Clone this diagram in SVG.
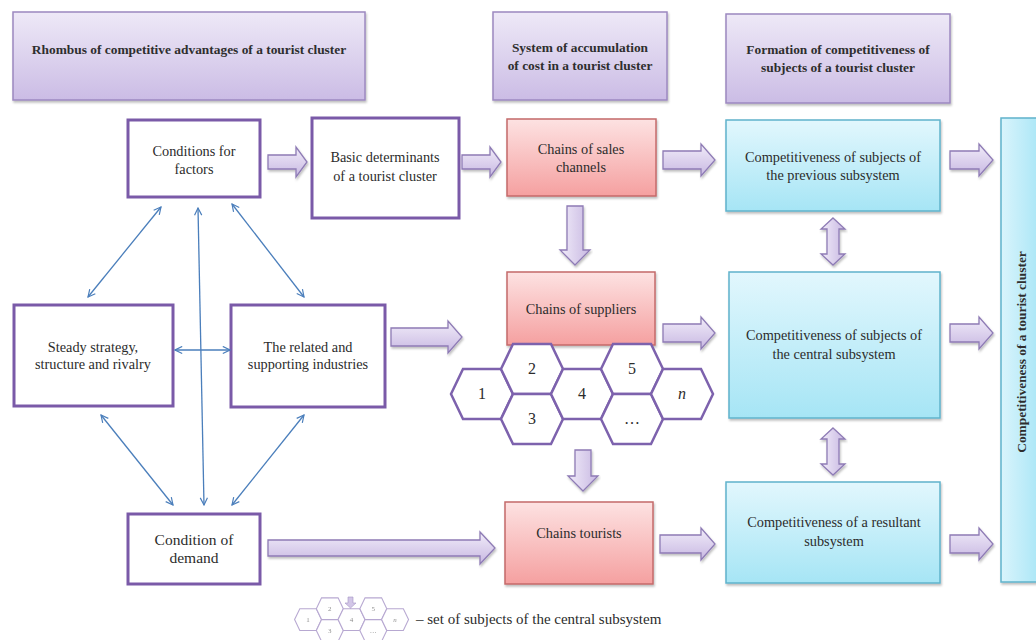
<svg xmlns="http://www.w3.org/2000/svg" xmlns:xlink="http://www.w3.org/1999/xlink" width="1036" height="640" viewBox="0 0 1036 640" font-family="'Liberation Serif', 'Times New Roman', serif">
<defs>
<linearGradient id="gPurple" x1="0" y1="0" x2="0" y2="1"><stop offset="0" stop-color="#eee9f7"/><stop offset="1" stop-color="#cbbce5"/></linearGradient>
<linearGradient id="gRed" x1="0" y1="0" x2="0" y2="1"><stop offset="0" stop-color="#fde2e2"/><stop offset="1" stop-color="#f5a0a0"/></linearGradient>
<linearGradient id="gCyan" x1="0" y1="0" x2="0" y2="1"><stop offset="0" stop-color="#e2f7fd"/><stop offset="1" stop-color="#a6e5f5"/></linearGradient>
<linearGradient id="gBar" x1="0" y1="0" x2="1" y2="0"><stop offset="0" stop-color="#d9f4fc"/><stop offset="1" stop-color="#a9e6f6"/></linearGradient>
<linearGradient id="gArrow" x1="0" y1="0" x2="0" y2="1"><stop offset="0" stop-color="#f1ecf9"/><stop offset="1" stop-color="#c8b8e2"/></linearGradient>
<linearGradient id="gArrowV" x1="0" y1="0" x2="1" y2="0"><stop offset="0" stop-color="#f1ecf9"/><stop offset="1" stop-color="#c8b8e2"/></linearGradient>
<filter id="sh" x="-10%" y="-10%" width="120%" height="130%"><feDropShadow dx="1" dy="2" stdDeviation="1.2" flood-color="#000" flood-opacity="0.25"/></filter>
<marker id="vh" viewBox="0 0 10 10" refX="9" refY="5" markerWidth="9" markerHeight="9" markerUnits="userSpaceOnUse" orient="auto-start-reverse"><path d="M1,1 L9,5 L1,9" fill="none" stroke="#4a7ebb" stroke-width="1.3"/></marker>
<style>
.hdr{fill:url(#gPurple);stroke:#9c88c0;stroke-width:1.5;filter:url(#sh)}
.wb{fill:#fff;stroke:#7a5aa8;stroke-width:3}
.rb{fill:url(#gRed);stroke:#c46a6a;stroke-width:1.5;filter:url(#sh)}
.cb{fill:url(#gCyan);stroke:#5fb3cb;stroke-width:1.5;filter:url(#sh)}
.ar{fill:url(#gArrow);stroke:#8e7bb5;stroke-width:1.3;filter:url(#sh)}
.arv{fill:url(#gArrowV);stroke:#8e7bb5;stroke-width:1.3;filter:url(#sh)}
.hx{fill:#fff;stroke:#7d62ad;stroke-width:2.5}
.bl{stroke:#4a7ebb;stroke-width:1.3;fill:none;marker-start:url(#vh);marker-end:url(#vh)}
text{font-family:'Liberation Serif','Times New Roman',serif;fill:#2c2c2c;text-anchor:middle}
.th{font-size:13.4px;font-weight:bold;fill:#2e2e2e}
.tb{font-size:14.3px}
.tn{font-size:15.5px}
.hn{font-size:16px}
</style>
</defs>

<g id="header-rhombus"><rect class="hdr" x="13" y="12" width="352" height="88"/><text class="th" x="189" y="54">Rhombus of competitive advantages of a tourist cluster</text></g>
<g id="header-system"><rect class="hdr" x="493" y="12" width="174" height="88"/><text class="th" x="580" y="52">System of accumulation</text><text class="th" x="580" y="70">of cost in a tourist cluster</text></g>
<g id="header-formation"><rect class="hdr" x="726" y="14" width="224" height="89"/><text class="th" x="838" y="54">Formation of competitiveness of</text><text class="th" x="838" y="72">subjects of a tourist cluster</text></g>

<g id="conditions-factors"><rect class="wb" x="128" y="120" width="132" height="77"/><text class="tb" x="194" y="156">Conditions for</text><text class="tb" x="194" y="174">factors</text></g>
<g id="basic-determinants"><rect class="wb" x="312" y="118" width="147" height="100"/><text class="tb" x="385" y="162">Basic determinants</text><text class="tb" x="385" y="181">of a tourist cluster</text></g>
<g id="chains-sales"><rect class="rb" x="507" y="119" width="149" height="77"/><text class="tb" x="581" y="154">Chains of sales</text><text class="tb" x="581" y="172">channels</text></g>
<g id="comp-previous"><rect class="cb" x="726" y="120" width="214" height="91"/><text class="tb" x="833" y="162">Competitiveness of subjects of</text><text class="tb" x="833" y="180">the previous subsystem</text></g>
<g id="comp-cluster"><rect x="1001" y="118" width="40" height="464" fill="url(#gBar)" stroke="#5fb3cb" stroke-width="1.5" filter="url(#sh)"/><text class="th" transform="translate(1026,352) rotate(-90)" x="0" y="0">Competitiveness of a tourist cluster</text></g>

<g id="steady-strategy"><rect class="wb" x="14" y="305" width="159" height="101"/><text class="tb" x="93" y="352">Steady strategy,</text><text class="tb" x="93" y="369">structure and rivalry</text></g>
<g id="related-industries"><rect class="wb" x="231" y="305" width="154" height="102"/><text class="tb" x="308" y="352">The related and</text><text class="tb" x="308" y="369">supporting industries</text></g>
<g id="chains-suppliers"><rect class="rb" x="507" y="272" width="148" height="73"/><text class="tb" x="581" y="314">Chains of suppliers</text></g>
<g id="comp-central"><rect class="cb" x="729" y="272" width="211" height="146"/><text class="tb" x="834" y="340">Competitiveness of subjects of</text><text class="tb" x="834" y="359">the central subsystem</text></g>

<g id="hexes">
<polygon class="hx" points="451,394 463,369 501,369 513,394 501,419 463,419"/><text class="hn" x="482" y="399">1</text>
<polygon class="hx" points="501,369 513,344 551,344 563,369 551,394 513,394"/><text class="hn" x="532" y="374">2</text>
<polygon class="hx" points="501,419 513,394 551,394 563,419 551,444 513,444"/><text class="hn" x="532" y="424">3</text>
<polygon class="hx" points="551,394 563,369 601,369 613,394 601,419 563,419"/><text class="hn" x="582" y="399">4</text>
<polygon class="hx" points="601,369 613,344 651,344 663,369 651,394 613,394"/><text class="hn" x="632" y="374">5</text>
<polygon class="hx" points="601,419 613,394 651,394 663,419 651,444 613,444"/><text class="hn" x="632" y="424">…</text>
<polygon class="hx" points="651,394 663,369 701,369 713,394 701,419 663,419"/><text class="hn" x="682" y="399" font-style="italic">n</text>
</g>

<g id="condition-demand"><rect class="wb" x="128" y="514" width="132" height="70"/><text class="tn" x="194" y="545">Condition of</text><text class="tn" x="194" y="563">demand</text></g>
<g id="chains-tourists"><rect class="rb" x="505" y="502" width="148" height="82"/><text class="tb" x="579" y="538">Chains tourists</text></g>
<g id="comp-resultant"><rect class="cb" x="726" y="482" width="214" height="101"/><text class="tb" x="834" y="527">Competitiveness of a resultant</text><text class="tb" x="834" y="546">subsystem</text></g>

<g id="connectors">
<line class="bl" x1="161" y1="207" x2="88" y2="297"/>
<line class="bl" x1="232" y1="204" x2="304" y2="297"/>
<line class="bl" x1="198" y1="208" x2="204" y2="505"/>
<line class="bl" x1="175" y1="350" x2="230" y2="350"/>
<line class="bl" x1="101" y1="415" x2="173" y2="505"/>
<line class="bl" x1="304" y1="415" x2="232" y2="505"/>
<path class="ar" d="M268,155 L296,155 L296,147 L307,162 L296,177 L296,169 L268,169 Z"/>
<path class="ar" d="M462,155 L490,155 L490,147 L501,162 L490,177 L490,169 L462,169 Z"/>
<path class="ar" d="M663,151 L701,151 L701,144 L715,160 L701,176 L701,169 L663,169 Z"/>
<path class="ar" d="M950,151 L979,151 L979,144 L993,160 L979,176 L979,169 L950,169 Z"/>
<path class="ar" d="M391,328 L448,328 L448,321 L462,337 L448,353 L448,346 L391,346 Z"/>
<path class="ar" d="M663,324 L701,324 L701,317 L715,333 L701,349 L701,342 L663,342 Z"/>
<path class="ar" d="M950,324 L979,324 L979,317 L993,333 L979,349 L979,342 L950,342 Z"/>
<path class="ar" d="M268,540 L480,540 L480,532 L495,548 L480,564 L480,556 L268,556 Z"/>
<path class="ar" d="M660,535 L701,535 L701,528 L715,544 L701,560 L701,553 L660,553 Z"/>
<path class="ar" d="M950,535 L979,535 L979,528 L993,544 L979,560 L979,553 L950,553 Z"/>
<path class="arv" d="M567,206 L583,206 L583,250 L590,250 L575,265 L560,250 L567,250 Z"/>
<path class="arv" d="M575,450 L591,450 L591,476 L598,476 L583,491 L568,476 L575,476 Z"/>
<path class="arv" d="M833,218 L845,229 L839,229 L839,254 L845,254 L833,265 L821,254 L827,254 L827,229 L821,229 Z"/>
<path class="arv" d="M833,428 L845,439 L839,439 L839,464 L845,464 L833,475 L821,464 L827,464 L827,439 L821,439 Z"/>
</g>

<g id="legend">
<use xlink:href="#hexes" href="#hexes" transform="translate(98.4,448.2) scale(0.435)" opacity="0.55"/>
<path d="M348,597 L353,597 L353,603 L356,603 L350.5,608 L345,603 L348,603 Z" fill="#c8b8e2" stroke="#8e7bb5" stroke-width="0.6" opacity="0.8"/>
<text x="416" y="624" style="text-anchor:start;font-size:15px">– set of subjects of the central subsystem</text>
</g>
</svg>
